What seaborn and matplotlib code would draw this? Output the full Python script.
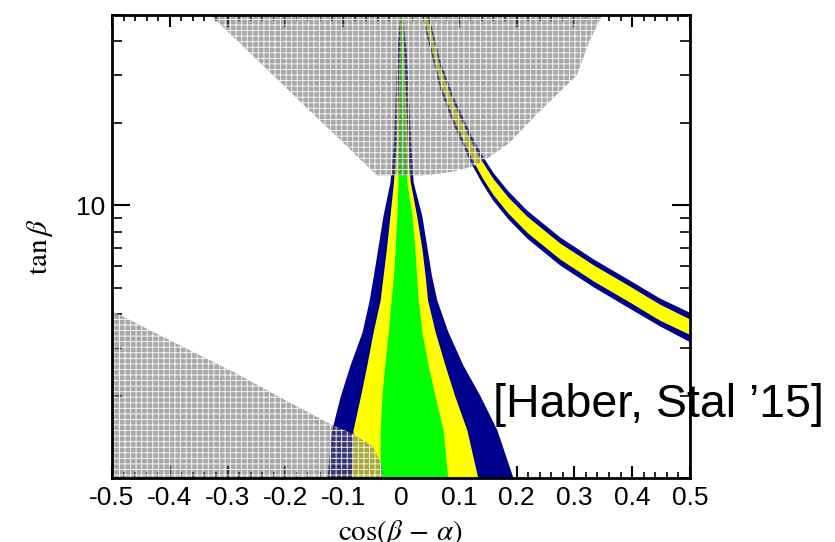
import matplotlib
matplotlib.use("Agg")
import numpy as np
import matplotlib.pyplot as plt
import seaborn as sns

### tan(beta) rows of the central cone and x-edges of each contour
cone_tb = [1.0, 1.5, 2.0, 2.6, 3.45, 4.5, 5.5, 7.0, 9.2, 12.2, 17, 25, 37, 50]
cone_blue_l = [-0.128, -0.120, -0.105, -0.088, -0.067, -0.055, -0.048, -0.040, -0.031, -0.019, -0.013, -0.010, -0.007, -0.002]
cone_yel_l = [-0.085, -0.083, -0.070, -0.059, -0.048, -0.036, -0.031, -0.025, -0.019, -0.013, -0.008, -0.005, -0.003, -0.002]
cone_grn_l = [-0.036, -0.036, -0.033, -0.028, -0.022, -0.017, -0.013, -0.010, -0.007, -0.005, -0.004, -0.003, -0.002, -0.001]
cone_grn_r = [0.081, 0.073, 0.059, 0.047, 0.036, 0.030, 0.027, 0.024, 0.019, 0.010, 0.007, 0.005, 0.003, 0.001]
cone_yel_r = [0.133, 0.114, 0.093, 0.076, 0.059, 0.046, 0.042, 0.036, 0.027, 0.016, 0.011, 0.008, 0.005, 0.002]
cone_blue_r = [0.194, 0.166, 0.137, 0.107, 0.081, 0.062, 0.053, 0.045, 0.036, 0.021, 0.017, 0.013, 0.009, 0.002]

### the second (wrong-sign) band on the right, tan(beta) limits per cos(beta-alpha)
band_x = [0.040, 0.045, 0.0675, 0.090, 0.119, 0.140, 0.159, 0.185, 0.218, 0.275, 0.332, 0.391, 0.448, 0.50]
band_blue_hi = [58.6, 52.4, 33.9, 25.2, 18.5, 15.3, 13.24, 11.32, 9.6, 7.66, 6.38, 5.39, 4.57, 4.05]
band_yel_hi = [55.6, 49.8, 32.2, 24.0, 17.55, 14.55, 12.58, 10.75, 9.13, 7.28, 6.07, 5.13, 4.34, 3.83]
band_yel_lo = [48.6, 43.5, 28.1, 20.9, 15.33, 12.71, 10.99, 9.39, 7.97, 6.36, 5.30, 4.48, 3.79, 3.36]
band_blue_lo = [46.2, 41.3, 26.7, 19.9, 14.56, 12.08, 10.44, 8.93, 7.58, 6.04, 5.04, 4.25, 3.61, 3.16]

### excluded (gray) regions
gray_top_tb = [50, 40, 30, 22, 17, 15, 14, 13.3, 12.9]
gray_top_l = [-0.33, -0.282, -0.221, -0.155, -0.100, -0.074, -0.059, -0.048, -0.042]
gray_top_r = [0.348, 0.326, 0.304, 0.238, 0.188, 0.152, 0.128, 0.09, 0.04]
gray_low_x = [-0.5, -0.405, -0.29, -0.204, -0.123, -0.083, -0.048, -0.033, -0.031]
gray_low_tb = [4.1, 3.24, 2.45, 1.95, 1.58, 1.45, 1.30, 1.11, 1.0]

x_ticks = [-0.5, -0.4, -0.3, -0.2, -0.1, 0, 0.1, 0.2, 0.3, 0.4, 0.5]
x_labels = ['-0.5', '-0.4', '-0.3', '-0.2', '-0.1', '0', '0.1', '0.2', '0.3', '0.4', '0.5']
y_minor = [1, 2, 3, 4, 5, 6, 7, 8, 9, 20, 30, 40, 50]

BLUE = '#00008f'
YELLOW = '#ffff00'
GREEN = '#00ff00'

sns.set_style('ticks')
plt.rcParams['font.family'] = ['Liberation Sans', 'DejaVu Sans']
plt.rcParams['mathtext.fontset'] = 'stix'
plt.rcParams['axes.unicode_minus'] = False
plt.rcParams['hatch.linewidth'] = 0.6
plt.rcParams['text.color'] = 'black'
plt.rcParams['axes.labelcolor'] = 'black'

fig = plt.figure(figsize=(8.35, 5.42), dpi=100)
ax = fig.add_axes([0.1341, 0.1181, 0.6922, 0.8542])

ax.fill_betweenx(cone_tb, cone_blue_l, cone_blue_r, color=BLUE, lw=0, zorder=1)
ax.fill_betweenx(cone_tb, cone_yel_l, cone_yel_r, color=YELLOW, lw=0, zorder=2)
ax.fill_betweenx(cone_tb, cone_grn_l, cone_grn_r, color=GREEN, lw=0, zorder=3)

ax.fill_between(band_x, band_blue_lo, band_blue_hi, color=BLUE, lw=0, zorder=1)
ax.fill_between(band_x, band_yel_lo, band_yel_hi, color=YELLOW, lw=0, zorder=2)

# gray scan points lie on top of the fit regions
gray_face = (0.38, 0.38, 0.38, 0.55)
ax.fill_betweenx(gray_top_tb, gray_top_l, gray_top_r, facecolor=gray_face,
                 edgecolor='white', hatch='+++', lw=0, zorder=5)
ax.fill_between(gray_low_x, 1.0, gray_low_tb, facecolor=gray_face,
                edgecolor='white', hatch='+++', lw=0, zorder=5)

ax.set_yscale('log')
ax.set_xlim(-0.5, 0.5)
ax.set_ylim(1, 50)

ax.set_xticks(x_ticks, x_labels)
ax.set_xticks(np.arange(-0.5, 0.501, 0.02), minor=True)
ax.set_yticks([10], ['10'])
ax.set_yticks(y_minor, minor=True)
ax.yaxis.set_minor_formatter(matplotlib.ticker.NullFormatter())

ax.tick_params(which='both', direction='in', top=True, right=True, colors='black')
ax.tick_params(axis='x', which='major', length=8.5, width=1.5, labelsize=19, pad=6)
ax.tick_params(axis='x', which='minor', length=4.5, width=1.2)
ax.tick_params(axis='y', which='major', length=13, width=1.5, labelsize=19, pad=5)
ax.tick_params(axis='y', which='minor', length=7, width=1.2)
for s in ax.spines.values():
    s.set_linewidth(2)
    s.set_color('black')
    s.set_zorder(10)

ax.set_xlabel(r'$\cos(\beta\,-\,\alpha)$', fontsize=21, va='top')
ax.xaxis.set_label_coords(0.5, -0.086)
ax.set_ylabel(r'$\tan\beta$', fontsize=21)
ax.yaxis.set_label_coords(-0.098, 0.5)

fig.text(0.5904, 0.2306, '[Haber, Stal \u201915]', fontsize=33.5, color='black',
         family='Liberation Sans', va='baseline', ha='left')

fig.savefig('out.png', dpi=100)
